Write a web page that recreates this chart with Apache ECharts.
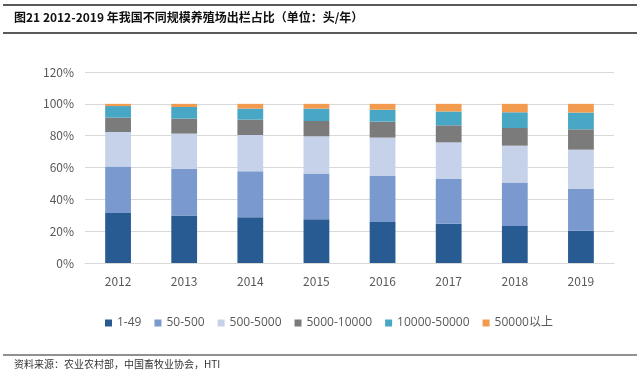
<!DOCTYPE html>
<html><head><meta charset="utf-8">
<script src="https://cdn.jsdelivr.net/npm/echarts@6/dist/echarts.min.js"></script>
<style>html,body{margin:0;padding:0;background:#fff;}#c{width:640px;height:378px;}</style>
</head><body><div id="c"></div>
<script>
var years = ['2012','2013','2014','2015','2016','2017','2018','2019'];
var seriesNames = ['1-49','50-500','500-5000','5000-10000','10000-50000','50000以上'];
var s1_49 = [31.4, 29.8, 28.7, 27.5, 25.8, 24.7, 23.3, 20.4];
var s50_500 = [29.3, 29.3, 28.9, 28.7, 28.9, 28.1, 27.2, 26.1];
var s500_5000 = [21.6, 22.2, 22.8, 23.4, 24.1, 23.0, 23.2, 24.7];
var s5000_10000 = [9.0, 9.4, 9.7, 9.6, 10.0, 10.7, 11.1, 12.8];
var s10000_50000 = [7.3, 7.3, 6.9, 7.8, 7.5, 8.7, 9.9, 10.5];
var s50000plus = [1.4, 2.0, 3.0, 3.0, 3.7, 4.8, 5.3, 5.5];
var yTicks = [0, 20, 40, 60, 80, 100, 120];
var colors = ['#285B92', '#7A9ACF', '#C5D2E9', '#7B7B7B', '#47A7C5', '#F29B4F'];
var values = [s1_49, s50_500, s500_5000, s5000_10000, s10000_50000, s50000plus];

var chart = echarts.init(document.getElementById('c'), null, {renderer: 'canvas'});
var font = '"Noto Sans CJK SC", "Open Sans", sans-serif';
chart.setOption({
  animation: false,
  textStyle: {fontFamily: font},
  graphic: [
    {type: 'line', shape: {x1: 3, y1: 5, x2: 637, y2: 5}, style: {stroke: '#222', lineWidth: 1.5}},
    {type: 'line', shape: {x1: 3, y1: 33, x2: 637, y2: 33}, style: {stroke: '#222', lineWidth: 1.5}},
    {type: 'text', left: 14, top: 11, style: {text: '图21 2012-2019 年我国不同规模养殖场出栏占比（单位：头/年）', font: 'bold 12px "Noto Sans CJK SC", sans-serif', fill: '#111'}},
    {type: 'line', shape: {x1: 3, y1: 355, x2: 637, y2: 355}, style: {stroke: '#222', lineWidth: 1.2}},
    {type: 'text', left: 14, top: 359, style: {text: '资料来源：农业农村部，中国畜牧业协会，HTI', font: '10px "Noto Sans CJK SC", sans-serif', fill: '#333'}}
  ],
  grid: {left: 85, right: 26, top: 72, bottom: 378 - 263, containLabel: false},
  legend: {
    data: seriesNames, top: 312, left: 100,
    itemWidth: 7, itemHeight: 7, itemGap: 13, icon: 'rect',
    textStyle: {color: '#595959', fontSize: 12, fontFamily: '"Open Sans", "Noto Sans CJK SC", sans-serif'}
  },
  xAxis: {
    type: 'category', data: years,
    axisLine: {show: true, lineStyle: {color: '#D9D9D9'}},
    axisTick: {show: false},
    axisLabel: {color: '#595959', fontSize: 12, margin: 12}
  },
  yAxis: {
    type: 'value', min: yTicks[0], max: yTicks[yTicks.length - 1], interval: 20,
    axisLine: {show: false}, axisTick: {show: false},
    axisLabel: {color: '#595959', fontSize: 12, margin: 11, formatter: '{value}%'},
    splitLine: {lineStyle: {color: '#D9D9D9'}}
  },
  series: seriesNames.map(function (n, i) {
    return {
      name: n, type: 'bar', stack: 'total', barWidth: '39%',
      itemStyle: {color: colors[i]}, data: values[i]
    };
  })
});
</script></body></html>
